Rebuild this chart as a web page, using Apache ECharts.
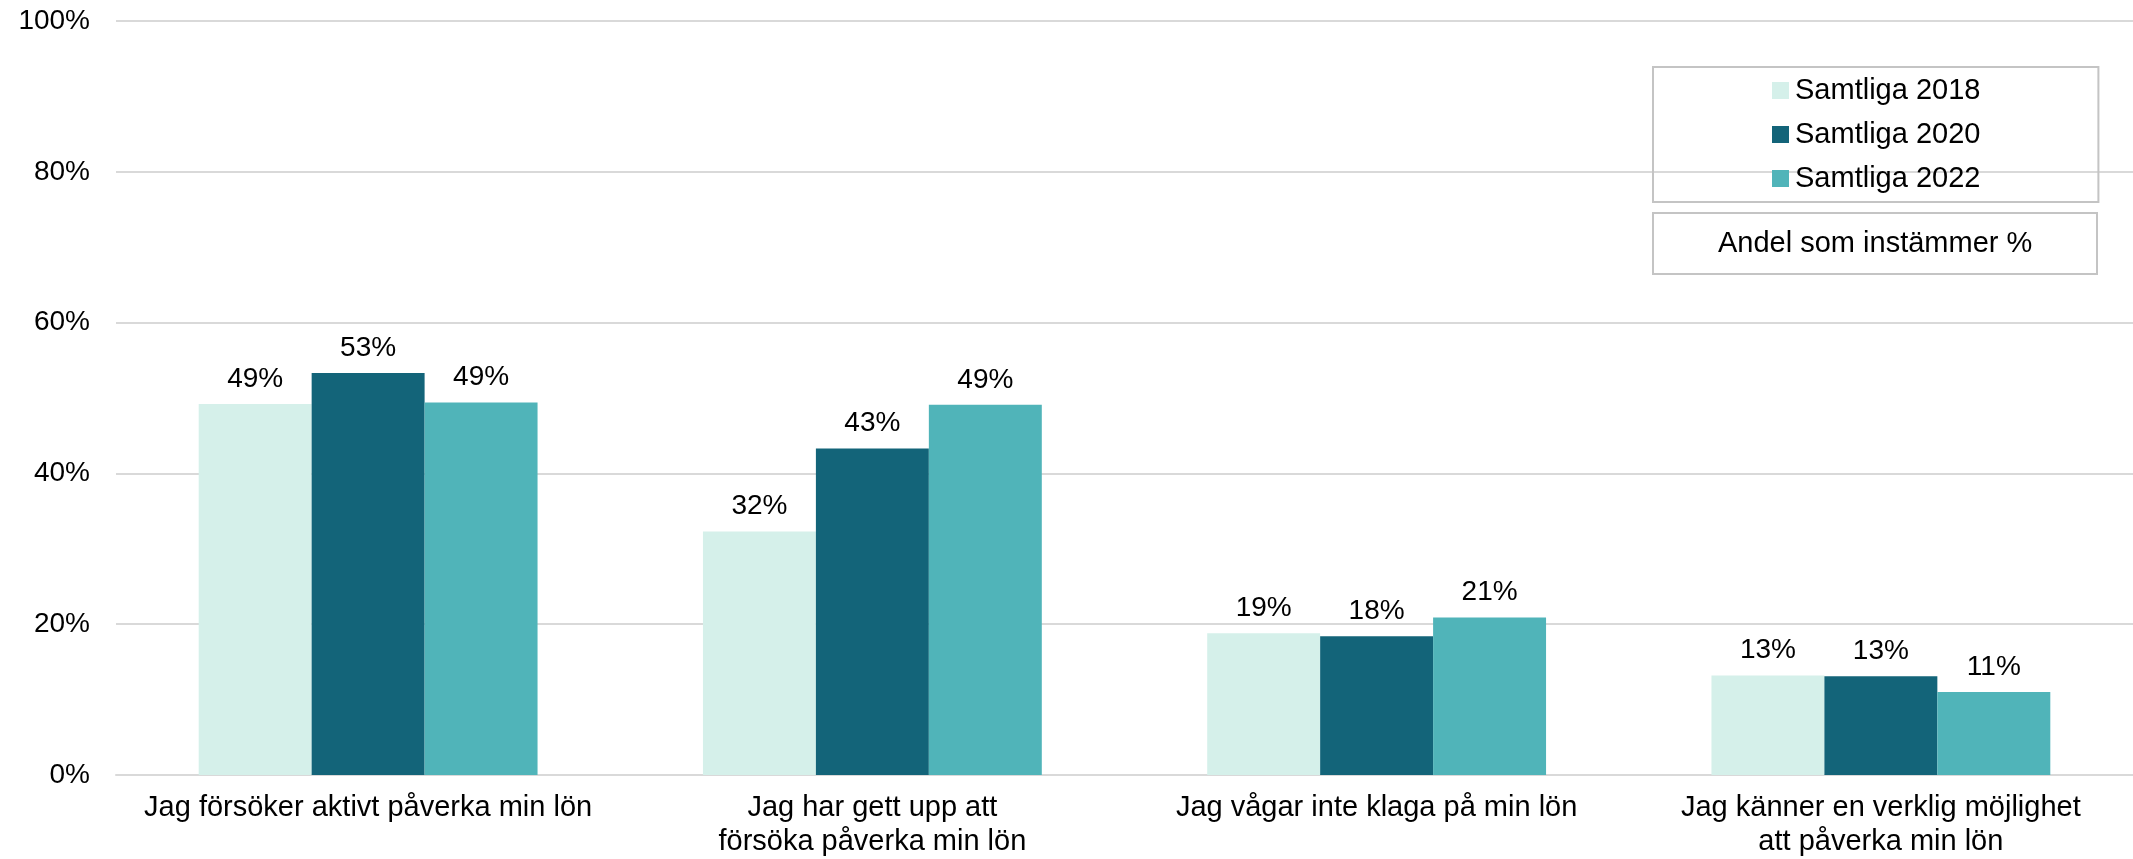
<!DOCTYPE html>
<html>
<head>
<meta charset="utf-8">
<script src="https://cdn.jsdelivr.net/npm/echarts@6/dist/echarts.min.js"></script>
<style>
  html, body { margin: 0; padding: 0; background: #fff; }
  #main { width: 2133px; height: 859px; }
</style>
</head>
<body>
<div id="main"></div>
<script>
const categories = [
    'Jag försöker aktivt påverka min lön',
    'Jag har gett upp att\nförsöka påverka min lön',
    'Jag vågar inte klaga på min lön',
    'Jag känner en verklig möjlighet\natt påverka min lön'
];
const seriesNames = ['Samtliga 2018', 'Samtliga 2020', 'Samtliga 2022'];
const values2018 = [49.2, 32.3, 18.8, 13.2];
const values2020 = [53.3, 43.3, 18.4, 13.1];
const values2022 = [49.4, 49.1, 20.9, 11.0];
const yTicks = [0, 20, 40, 60, 80, 100];
const colors = ['#d5f0ea', '#136479', '#50b4b9'];

const font = 'Liberation Sans, Arial, sans-serif';
let chart = echarts.init(document.getElementById('main'));

function makeSeries(name, data, color) {
    return {
        name: name,
        type: 'bar',
        data: data,
        barGap: '0%',
        barCategoryGap: '32.8%',
        itemStyle: { color: color },
        label: {
            show: true,
            position: 'top',
            distance: 11,
            color: '#000',
            fontFamily: font,
            fontSize: 28,
            formatter: p => Math.round(p.value) + '%'
        }
    };
}

let option = {
    animation: false,
    backgroundColor: '#fff',
    title: {
        text: 'Andel som instämmer %',
        left: 1653,
        top: 213,
        padding: [16, 65, 16, 65],
        borderWidth: 2,
        borderColor: '#c4c4c4',
        textStyle: {
            color: '#000',
            fontFamily: font,
            fontSize: 29,
            fontWeight: 'normal',
            lineHeight: 29
        }
    },
    legend: {
        orient: 'vertical',
        left: 1653,
        top: 67,
        padding: [9, 118, 9, 119],
        borderWidth: 2,
        borderColor: '#c4c4c4',
        itemWidth: 17,
        itemHeight: 17,
        itemGap: 15,
        icon: 'rect',
        textStyle: {
            color: '#000',
            fontFamily: font,
            fontSize: 29,
            lineHeight: 29,
            padding: [0, 0, 0, 1]
        },
        data: seriesNames
    },
    grid: {
        left: 116,
        right: 0,
        top: 21,
        bottom: 83,
        containLabel: false
    },
    xAxis: {
        type: 'category',
        data: categories,
        axisTick: { show: false },
        axisLine: { lineStyle: { color: '#d9d9d9', width: 2 } },
        axisLabel: {
            color: '#000',
            fontFamily: font,
            fontSize: 29,
            lineHeight: 34,
            margin: 16,
            interval: 0
        }
    },
    yAxis: {
        type: 'value',
        min: yTicks[0],
        max: yTicks[yTicks.length - 1],
        interval: 20,
        axisLine: { show: false },
        axisTick: { show: false },
        splitLine: { lineStyle: { color: '#d9d9d9', width: 2 } },
        axisLabel: {
            color: '#000',
            fontFamily: font,
            fontSize: 28,
            margin: 26,
            formatter: v => v + '%'
        }
    },
    series: [
        makeSeries(seriesNames[0], values2018, colors[0]),
        makeSeries(seriesNames[1], values2020, colors[1]),
        makeSeries(seriesNames[2], values2022, colors[2])
    ]
};
chart.setOption(option);
</script>
</body>
</html>
